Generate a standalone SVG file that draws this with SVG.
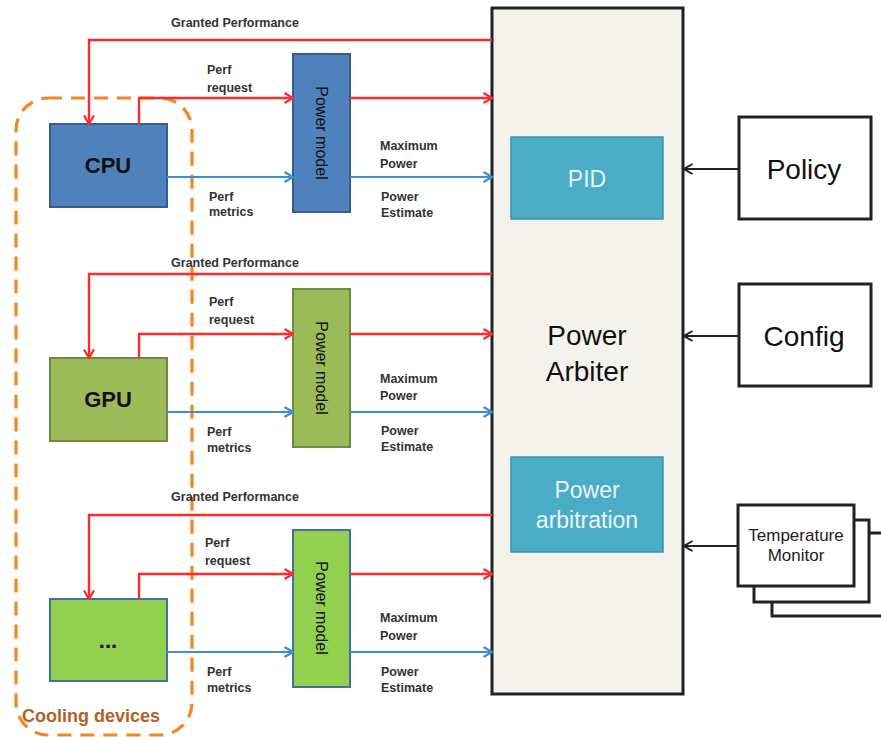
<svg xmlns="http://www.w3.org/2000/svg" width="881" height="737" viewBox="0 0 881 737">
<defs>
<style>
.lbl{font-family:"Liberation Sans",Arial,sans-serif;font-weight:bold;font-size:12.5px;fill:#333}
.red{stroke:#ff2b2b;stroke-width:2.4;fill:none}
.blue{stroke:#3a8fd8;stroke-width:2.2;fill:none}
.blk{stroke:#222;stroke-width:2;fill:none}
.pm{font-family:"Liberation Sans",Arial,sans-serif;font-size:16px;fill:#111}
.dev{font-family:"Liberation Sans",Arial,sans-serif;font-weight:bold;font-size:22px;fill:#111}
.big{font-family:"Liberation Sans",Arial,sans-serif;font-size:28px;fill:#111}
.inner{font-family:"Liberation Sans",Arial,sans-serif;font-size:23px;fill:#e8f6fa}
.box{stroke:#222;stroke-width:3;fill:#fff}
</style>
<marker id="ar" viewBox="0 0 10 12" refX="9.5" refY="6" markerWidth="10" markerHeight="12" markerUnits="userSpaceOnUse" orient="auto"><path d="M1,1 L9.5,6 L1,11" fill="none" stroke="#ff2b2b" stroke-width="2.2"/></marker>
<marker id="ab" viewBox="0 0 10 12" refX="9.5" refY="6" markerWidth="10" markerHeight="12" markerUnits="userSpaceOnUse" orient="auto"><path d="M1,1 L9.5,6 L1,11" fill="none" stroke="#3a8fd8" stroke-width="2.2"/></marker>
<marker id="ak" viewBox="0 0 10 12" refX="9.5" refY="6" markerWidth="10" markerHeight="12" markerUnits="userSpaceOnUse" orient="auto"><path d="M1,1 L9.5,6 L1,11" fill="none" stroke="#222" stroke-width="2"/></marker>
</defs>
<rect width="881" height="737" fill="#fff"/>

<g id="cooling-devices">
<rect x="16" y="98" width="176" height="637" rx="32" fill="none" stroke="#f5861f" stroke-width="3.2" stroke-dasharray="14 9"/>
<text x="22" y="722" font-family="Liberation Sans,Arial,sans-serif" font-weight="bold" font-size="18" fill="#b0622a">Cooling devices</text>
</g>

<g id="power-arbiter">
<rect x="492" y="8" width="191" height="686" fill="#f3f2ec" stroke="#222" stroke-width="3"/>
<text class="big" x="587" y="345" text-anchor="middle">Power</text>
<text class="big" x="587" y="381" text-anchor="middle">Arbiter</text>
</g>
<g id="pid">
<rect x="511" y="137" width="152" height="82" fill="#4bacc6" stroke="#3b93ab" stroke-width="1.5"/>
<text class="inner" x="587" y="187" text-anchor="middle">PID</text>
</g>
<g id="power-arbitration">
<rect x="511" y="457" width="152" height="95" fill="#4bacc6" stroke="#3b93ab" stroke-width="1.5"/>
<text class="inner" x="587" y="498" text-anchor="middle">Power</text>
<text class="inner" x="587" y="528" text-anchor="middle">arbitration</text>
</g>
<g id="policy">
<rect class="box" x="739" y="117" width="132" height="102"/>
<text class="big" x="804" y="179" text-anchor="middle">Policy</text>
</g>
<g id="config">
<rect class="box" x="739" y="284" width="132" height="102"/>
<text class="big" x="804" y="346" text-anchor="middle">Config</text>
</g>
<g id="temperature-monitor">
<rect class="box" x="772" y="533" width="115" height="83"/>
<rect class="box" x="754" y="520" width="115" height="82"/>
<rect class="box" x="738" y="505" width="116" height="81"/>
<text x="796" y="541" text-anchor="middle" font-family="Liberation Sans,Arial,sans-serif" font-size="17" fill="#222">Temperature</text>
<text x="796" y="561" text-anchor="middle" font-family="Liberation Sans,Arial,sans-serif" font-size="17" fill="#222">Monitor</text>
</g>

<g id="cpu">
<rect x="50" y="124" width="117" height="83" fill="#4f81bd" stroke="#385d8a" stroke-width="2"/>
<text class="dev" x="108" y="173" text-anchor="middle">CPU</text>
</g>
<g id="cpu-power-model">
<rect x="293" y="54" width="57" height="158" fill="#4f81bd" stroke="#385d8a" stroke-width="2"/>
<text class="pm" transform="translate(316,133) rotate(90)" text-anchor="middle">Power model</text>
</g>
<g id="gpu">
<rect x="50" y="358" width="117" height="83" fill="#9bbb59" stroke="#71893f" stroke-width="2"/>
<text class="dev" x="108" y="407" text-anchor="middle">GPU</text>
</g>
<g id="gpu-power-model">
<rect x="293" y="289" width="57" height="158" fill="#9bbb59" stroke="#71893f" stroke-width="2"/>
<text class="pm" transform="translate(316,368) rotate(90)" text-anchor="middle">Power model</text>
</g>
<g id="other">
<rect x="50" y="599" width="117" height="82" fill="#92d050" stroke="#41719c" stroke-width="2"/>
<text class="dev" x="108" y="648" text-anchor="middle">...</text>
</g>
<g id="other-power-model">
<rect x="293" y="530" width="57" height="157" fill="#92d050" stroke="#41719c" stroke-width="2"/>
<text class="pm" transform="translate(316,608) rotate(90)" text-anchor="middle">Power model</text>
</g>

<g id="connectors">
<path class="red" d="M492,40 H89 V124" marker-end="url(#ar)"/>
<path class="red" d="M139,124 V98 H293" marker-end="url(#ar)"/>
<path class="red" d="M350,98 H492" marker-end="url(#ar)"/>
<path class="blue" d="M167,177 H293" marker-end="url(#ab)"/>
<path class="blue" d="M350,177 H492" marker-end="url(#ab)"/>
<path class="red" d="M492,274 H89 V358" marker-end="url(#ar)"/>
<path class="red" d="M139,358 V334 H293" marker-end="url(#ar)"/>
<path class="red" d="M350,334 H492" marker-end="url(#ar)"/>
<path class="blue" d="M167,412 H293" marker-end="url(#ab)"/>
<path class="blue" d="M350,412 H492" marker-end="url(#ab)"/>
<path class="red" d="M492,515 H89 V599" marker-end="url(#ar)"/>
<path class="red" d="M139,599 V574 H293" marker-end="url(#ar)"/>
<path class="red" d="M350,574 H492" marker-end="url(#ar)"/>
<path class="blue" d="M167,652 H293" marker-end="url(#ab)"/>
<path class="blue" d="M350,652 H492" marker-end="url(#ab)"/>
<path class="blk" d="M739,169 H684" marker-end="url(#ak)"/>
<path class="blk" d="M739,336 H684" marker-end="url(#ak)"/>
<path class="blk" d="M738,546 H684" marker-end="url(#ak)"/>
</g>

<g id="labels">
<text class="lbl" x="235" y="27" text-anchor="middle">Granted Performance</text>
<text class="lbl" x="207" y="74">Perf</text>
<text class="lbl" x="207" y="92">request</text>
<text class="lbl" x="209" y="201">Perf</text>
<text class="lbl" x="209" y="216">metrics</text>
<text class="lbl" x="380" y="150">Maximum</text>
<text class="lbl" x="380" y="168">Power</text>
<text class="lbl" x="381" y="201">Power</text>
<text class="lbl" x="381" y="217">Estimate</text>

<text class="lbl" x="235" y="267" text-anchor="middle">Granted Performance</text>
<text class="lbl" x="209" y="306">Perf</text>
<text class="lbl" x="209" y="324">request</text>
<text class="lbl" x="207" y="436">Perf</text>
<text class="lbl" x="207" y="452">metrics</text>
<text class="lbl" x="380" y="383">Maximum</text>
<text class="lbl" x="380" y="400">Power</text>
<text class="lbl" x="381" y="435">Power</text>
<text class="lbl" x="381" y="451">Estimate</text>

<text class="lbl" x="235" y="501" text-anchor="middle">Granted Performance</text>
<text class="lbl" x="205" y="547">Perf</text>
<text class="lbl" x="205" y="565">request</text>
<text class="lbl" x="207" y="676">Perf</text>
<text class="lbl" x="207" y="692">metrics</text>
<text class="lbl" x="380" y="622">Maximum</text>
<text class="lbl" x="380" y="640">Power</text>
<text class="lbl" x="381" y="676">Power</text>
<text class="lbl" x="381" y="692">Estimate</text>
</g>
</svg>
